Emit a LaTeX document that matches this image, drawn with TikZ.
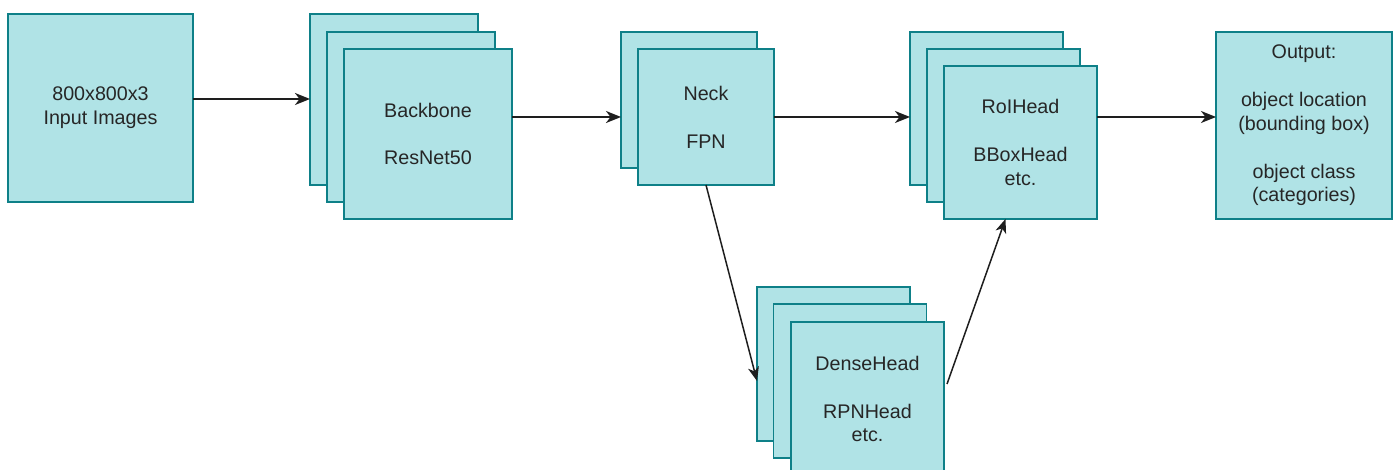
\documentclass[tikz,border=0pt]{standalone}
\usepackage{fontspec}
\setmainfont{Liberation Sans}
\usetikzlibrary{arrows.meta}
\definecolor{boxfill}{HTML}{B0E3E6}
\definecolor{boxline}{HTML}{0E8088}
\definecolor{txt}{HTML}{262626}
\definecolor{arr}{HTML}{1E1E1E}
\begin{document}
\begin{tikzpicture}[x=1pt,y=-1pt,
  box/.style={draw=boxline, fill=boxfill, line width=1.5pt, inner sep=0pt, outer sep=0pt,
    align=center, text=txt, font=\fontsize{19.7}{23.8}\selectfont},
  conn/.style={draw=arr, line width=2pt, -{Stealth[length=15pt,width=12pt,inset=4.5pt]}},
  diag/.style={draw=arr, line width=1.5pt, -{Stealth[length=14pt,width=11pt,inset=4pt]}}]
\useasboundingbox (0,0) rectangle (1394,470);

% Input
\node[box, minimum width=185pt, minimum height=188pt] (inp) at (100.5,108) {800x800x3\\Input Images};

% Backbone stack
\node[box, minimum width=168pt, minimum height=171pt] (bb1) at (394,99.5) {};
\node[box, minimum width=168pt, minimum height=170pt] (bb2) at (411,117) {};
\node[box, minimum width=168pt, minimum height=170pt] (bb3) at (428,134) {Backbone\\[24pt]ResNet50};

% Neck stack
\node[box, minimum width=136pt, minimum height=136pt] (nk1) at (689,100) {};
\node[box, minimum width=136pt, minimum height=136pt] (nk2) at (706,117) {Neck\\[24pt]FPN};

% RoI head stack
\node[box, minimum width=153pt, minimum height=153pt] (roi1) at (986.5,108.5) {};
\node[box, minimum width=153pt, minimum height=153pt] (roi2) at (1003.5,125.5) {};
\node[box, minimum width=153pt, minimum height=153pt] (roi3) at (1020.5,142.5) {RoIHead\\[24pt]BBoxHead\\etc.};

% Output
\node[box, minimum width=176pt, minimum height=187pt] (out) at (1304,125.5)
  {Output:\\[24pt]object location\\(bounding box)\\[24pt]object class\\(categories)};

% Dense head stack
\node[box, minimum width=153pt, minimum height=154pt] (dh1) at (833.5,364) {};
\node[box, minimum width=153pt, minimum height=154pt] (dh2) at (850,381) {};
\node[box, minimum width=153pt, minimum height=154pt] (dh3) at (867.5,399) {DenseHead\\[24pt]RPNHead\\etc.};

% Connectors
\draw[conn] ([yshift=0.5pt]inp.east |- bb1.west) -- ([yshift=0.5pt]bb1.west);
\draw[conn] (bb3.east |- nk2.west) -- (nk1.west |- nk2.west);
\draw[conn] (nk2.east) -- (nk2.east -| roi1.west);
\draw[conn] ([yshift=25.5pt]roi3.east) -- ([yshift=25.5pt]roi3.east -| out.west);
\draw[diag] (nk2.south) -- (dh1.west |- dh2.west);
\draw[diag] ([xshift=3pt,yshift=15pt]dh3.east) -- ([xshift=-15pt]roi3.south);
\end{tikzpicture}
\end{document}
